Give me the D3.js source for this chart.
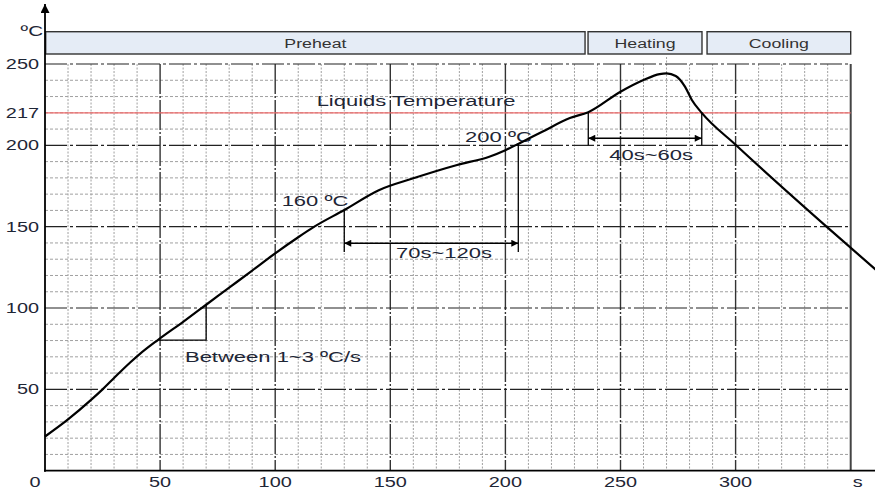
<!DOCTYPE html>
<html>
<head>
<meta charset="utf-8">
<script src="https://cdn.jsdelivr.net/npm/d3@7"></script>
<style>
  body { margin: 0; background: #fff; }
  text { font-family: "Liberation Sans", Arial, sans-serif; fill: #1e2636; }
</style>
</head>
<body>
<script>
// reflow profile
const times = [0, 10, 20, 25, 30, 37, 41, 49, 60, 70, 80, 90, 100, 110, 117, 130, 145, 160, 179, 193, 200, 206, 216, 228, 236, 250, 260, 267, 270, 274, 278, 281, 285.3, 300, 340, 361];
const temps = [21, 31.5, 43.5, 50, 57, 66.5, 71.5, 80.3, 91.5, 102, 112.5, 123, 133.6, 143.5, 150, 160.2, 172.4, 179.7, 187.9, 193, 197, 201, 207.1, 214.3, 217.5, 231.3, 239.2, 243.2, 243.7, 241.9, 234.7, 225.7, 217, 200.3, 149.4, 123.4];

const xTicks = [0, 50, 100, 150, 200, 250, 300];
const yTicks = [50, 100, 150, 200, 217, 250];
const liquidus = 217;

const phaseNames = ["Preheat", "Heating", "Cooling"];
const phaseStart = [0.3, 235.9, 287.6];
const phaseEnd = [234.6, 285.4, 350];

const notes = [
  {text: "Liquids Temperature", t: 118, v: 221.9, anchor: "start"},
  {text: "200 ºC", t: 182.5, v: 201.5, anchor: "start"},
  {text: "160 ºC", t: 102.8, v: 162.4, anchor: "start"},
  {text: "70s~120s", t: 173.3, v: 130.7, anchor: "middle"},
  {text: "40s~60s", t: 263.3, v: 191, anchor: "middle"},
  {text: "Between 1~3 ºC/s", t: 60.8, v: 66.8, anchor: "start"}
];

// dimension arrows: two drop lines from the curve plus a double arrow
const spans = [
  {t0: 130, t1: 205.6, top0: 160.2, top1: 201, bottom: 134.4, arrow: 139.8},
  {t0: 236, t1: 285.3, top0: 217, top1: 217, bottom: 200, arrow: 203.7}
];
const slope = {t0: 49.3, t1: 70, v0: 80.3, v1: 102};
const peakTime = 270;

const width = 875, height = 491;
const stretch = 1.42;

const x = d3.scaleLinear().domain([0, 350]).range([45, 850.7]);
// the picture puts 217 on the 220 gridline, so the axis is piecewise
const y = d3.scaleLinear().domain([0, 200, 217, 250]).range([470.7, 145.3, 112.9, 64]);
const paper = d3.scaleLinear().domain([0, 250]).range([470.7, 64]);

const svg = d3.select("body").append("svg")
    .attr("width", width)
    .attr("height", height);

const defs = svg.append("defs");
defs.append("marker")
    .attr("id", "head")
    .attr("viewBox", "0 0 10 10")
    .attr("refX", 10).attr("refY", 5)
    .attr("markerWidth", 11).attr("markerHeight", 7)
    .attr("markerUnits", "userSpaceOnUse")
    .attr("orient", "auto-start-reverse")
    .append("path").attr("d", "M0,0L10,5L0,10Z").attr("fill", "#000");
defs.append("marker")
    .attr("id", "axishead")
    .attr("viewBox", "0 0 10 10")
    .attr("refX", 10).attr("refY", 5)
    .attr("markerWidth", 11).attr("markerHeight", 9)
    .attr("markerUnits", "userSpaceOnUse")
    .attr("orient", "auto")
    .append("path").attr("d", "M0,0L10,5L0,10Z").attr("fill", "#000");

function label(g, tx, ty, str, size, anchor) {
  return g.append("text")
      .attr("transform", `translate(${tx},${ty}) scale(${stretch},1)`)
      .attr("text-anchor", anchor)
      .attr("font-size", size)
      .text(str);
}

// graph paper
const grid = svg.append("g");
const minorT = d3.range(10, 350, 10).filter(d => d % 50 !== 0);
const minorV = d3.range(10, 250, 10).filter(d => d % 50 !== 0);
grid.selectAll(".mx").data(minorT).join("line")
    .attr("x1", d => x(d)).attr("x2", d => x(d))
    .attr("y1", paper(250)).attr("y2", paper(0))
    .attr("stroke", "#a0a0a0").attr("stroke-dasharray", "2,1.5");
grid.selectAll(".my").data(minorV).join("line")
    .attr("x1", x(0)).attr("x2", x(350))
    .attr("y1", d => paper(d)).attr("y2", d => paper(d))
    .attr("stroke", "#a0a0a0").attr("stroke-dasharray", "3,2");
grid.append("line")
    .attr("x1", x(peakTime)).attr("x2", x(peakTime))
    .attr("y1", paper(250) - 7).attr("y2", paper(250))
    .attr("stroke", "#a0a0a0").attr("stroke-dasharray", "2,1.5");
grid.selectAll(".Mx").data([50, 100, 150, 200, 250, 300]).join("line")
    .attr("x1", d => x(d)).attr("x2", d => x(d))
    .attr("y1", paper(250)).attr("y2", paper(0))
    .attr("stroke", "#333").attr("stroke-width", 1.4).attr("stroke-dasharray", "30,2,2,2");
grid.selectAll(".My").data([50, 100, 150, 200, 250]).join("line")
    .attr("x1", x(0)).attr("x2", x(350))
    .attr("y1", d => paper(d)).attr("y2", d => paper(d))
    .attr("stroke", "#222").attr("stroke-width", 1.2).attr("stroke-dasharray", "22,3,3,3");
grid.append("line")
    .attr("x1", x(350)).attr("x2", x(350))
    .attr("y1", paper(250)).attr("y2", paper(0))
    .attr("stroke", "#444").attr("stroke-width", 2);

// liquidus line
svg.append("line")
    .attr("x1", x(0)).attr("x2", x(350))
    .attr("y1", y(liquidus)).attr("y2", y(liquidus))
    .attr("stroke", "#ee6a6a").attr("stroke-width", 1.3);

// phase header
const head = svg.append("g");
phaseNames.forEach((name, i) => {
  head.append("rect")
      .attr("x", x(phaseStart[i])).attr("y", 31.7)
      .attr("width", x(phaseEnd[i]) - x(phaseStart[i])).attr("height", 22.3)
      .attr("fill", "#e5ecf6").attr("stroke", "#333").attr("stroke-width", 1.4);
  label(head, (x(phaseStart[i]) + x(phaseEnd[i])) / 2, 47.5, name, 12.5, "middle").style("fill", "#333");
});

// axes
svg.append("line")
    .attr("x1", x(0)).attr("x2", x(0))
    .attr("y1", y(0) + 1).attr("y2", 4)
    .attr("stroke", "#000").attr("stroke-width", 1.8)
    .attr("marker-end", "url(#axishead)");
svg.append("line")
    .attr("x1", x(0) - 1).attr("x2", 885)
    .attr("y1", y(0)).attr("y2", y(0))
    .attr("stroke", "#000").attr("stroke-width", 1.8)
    .attr("marker-end", "url(#axishead)");

const ticks = svg.append("g");
yTicks.forEach(v => label(ticks, x(0) - 6, y(v) + 5, String(v), 14, "end"));
xTicks.forEach(t => label(ticks, t === 0 ? x(t) - 10 : x(t), 487, String(t), 14, "middle"));
label(ticks, x(350) + 7, 487, "s", 14, "middle");
label(ticks, x(0) - 2, 35.5, "ºC", 14.5, "end");

// annotations
const ann = svg.append("g").attr("stroke", "#000").attr("stroke-width", 1.3).attr("fill", "none");
ann.append("path")
    .attr("d", `M${x(slope.t0)},${y(slope.v0)}H${x(slope.t1)}V${y(slope.v1)}`);
spans.forEach(s => {
  ann.append("line").attr("x1", x(s.t0)).attr("x2", x(s.t0)).attr("y1", y(s.top0)).attr("y2", y(s.bottom));
  ann.append("line").attr("x1", x(s.t1)).attr("x2", x(s.t1)).attr("y1", y(s.top1)).attr("y2", y(s.bottom));
  ann.append("line")
      .attr("x1", x(s.t0)).attr("x2", x(s.t1))
      .attr("y1", y(s.arrow)).attr("y2", y(s.arrow))
      .attr("marker-start", "url(#head)").attr("marker-end", "url(#head)");
});

const words = svg.append("g");
notes.forEach(n => label(words, x(n.t), y(n.v), n.text, 15.5, n.anchor));

// profile curve
const pts = times.map((t, i) => [t, temps[i]]);
svg.append("path")
    .datum(pts)
    .attr("fill", "none")
    .attr("stroke", "#000")
    .attr("stroke-width", 2.2)
    .attr("d", d3.line()
        .x(d => x(d[0]))
        .y(d => y(d[1]))
        .curve(d3.curveMonotoneX));
</script>
</body>
</html>
